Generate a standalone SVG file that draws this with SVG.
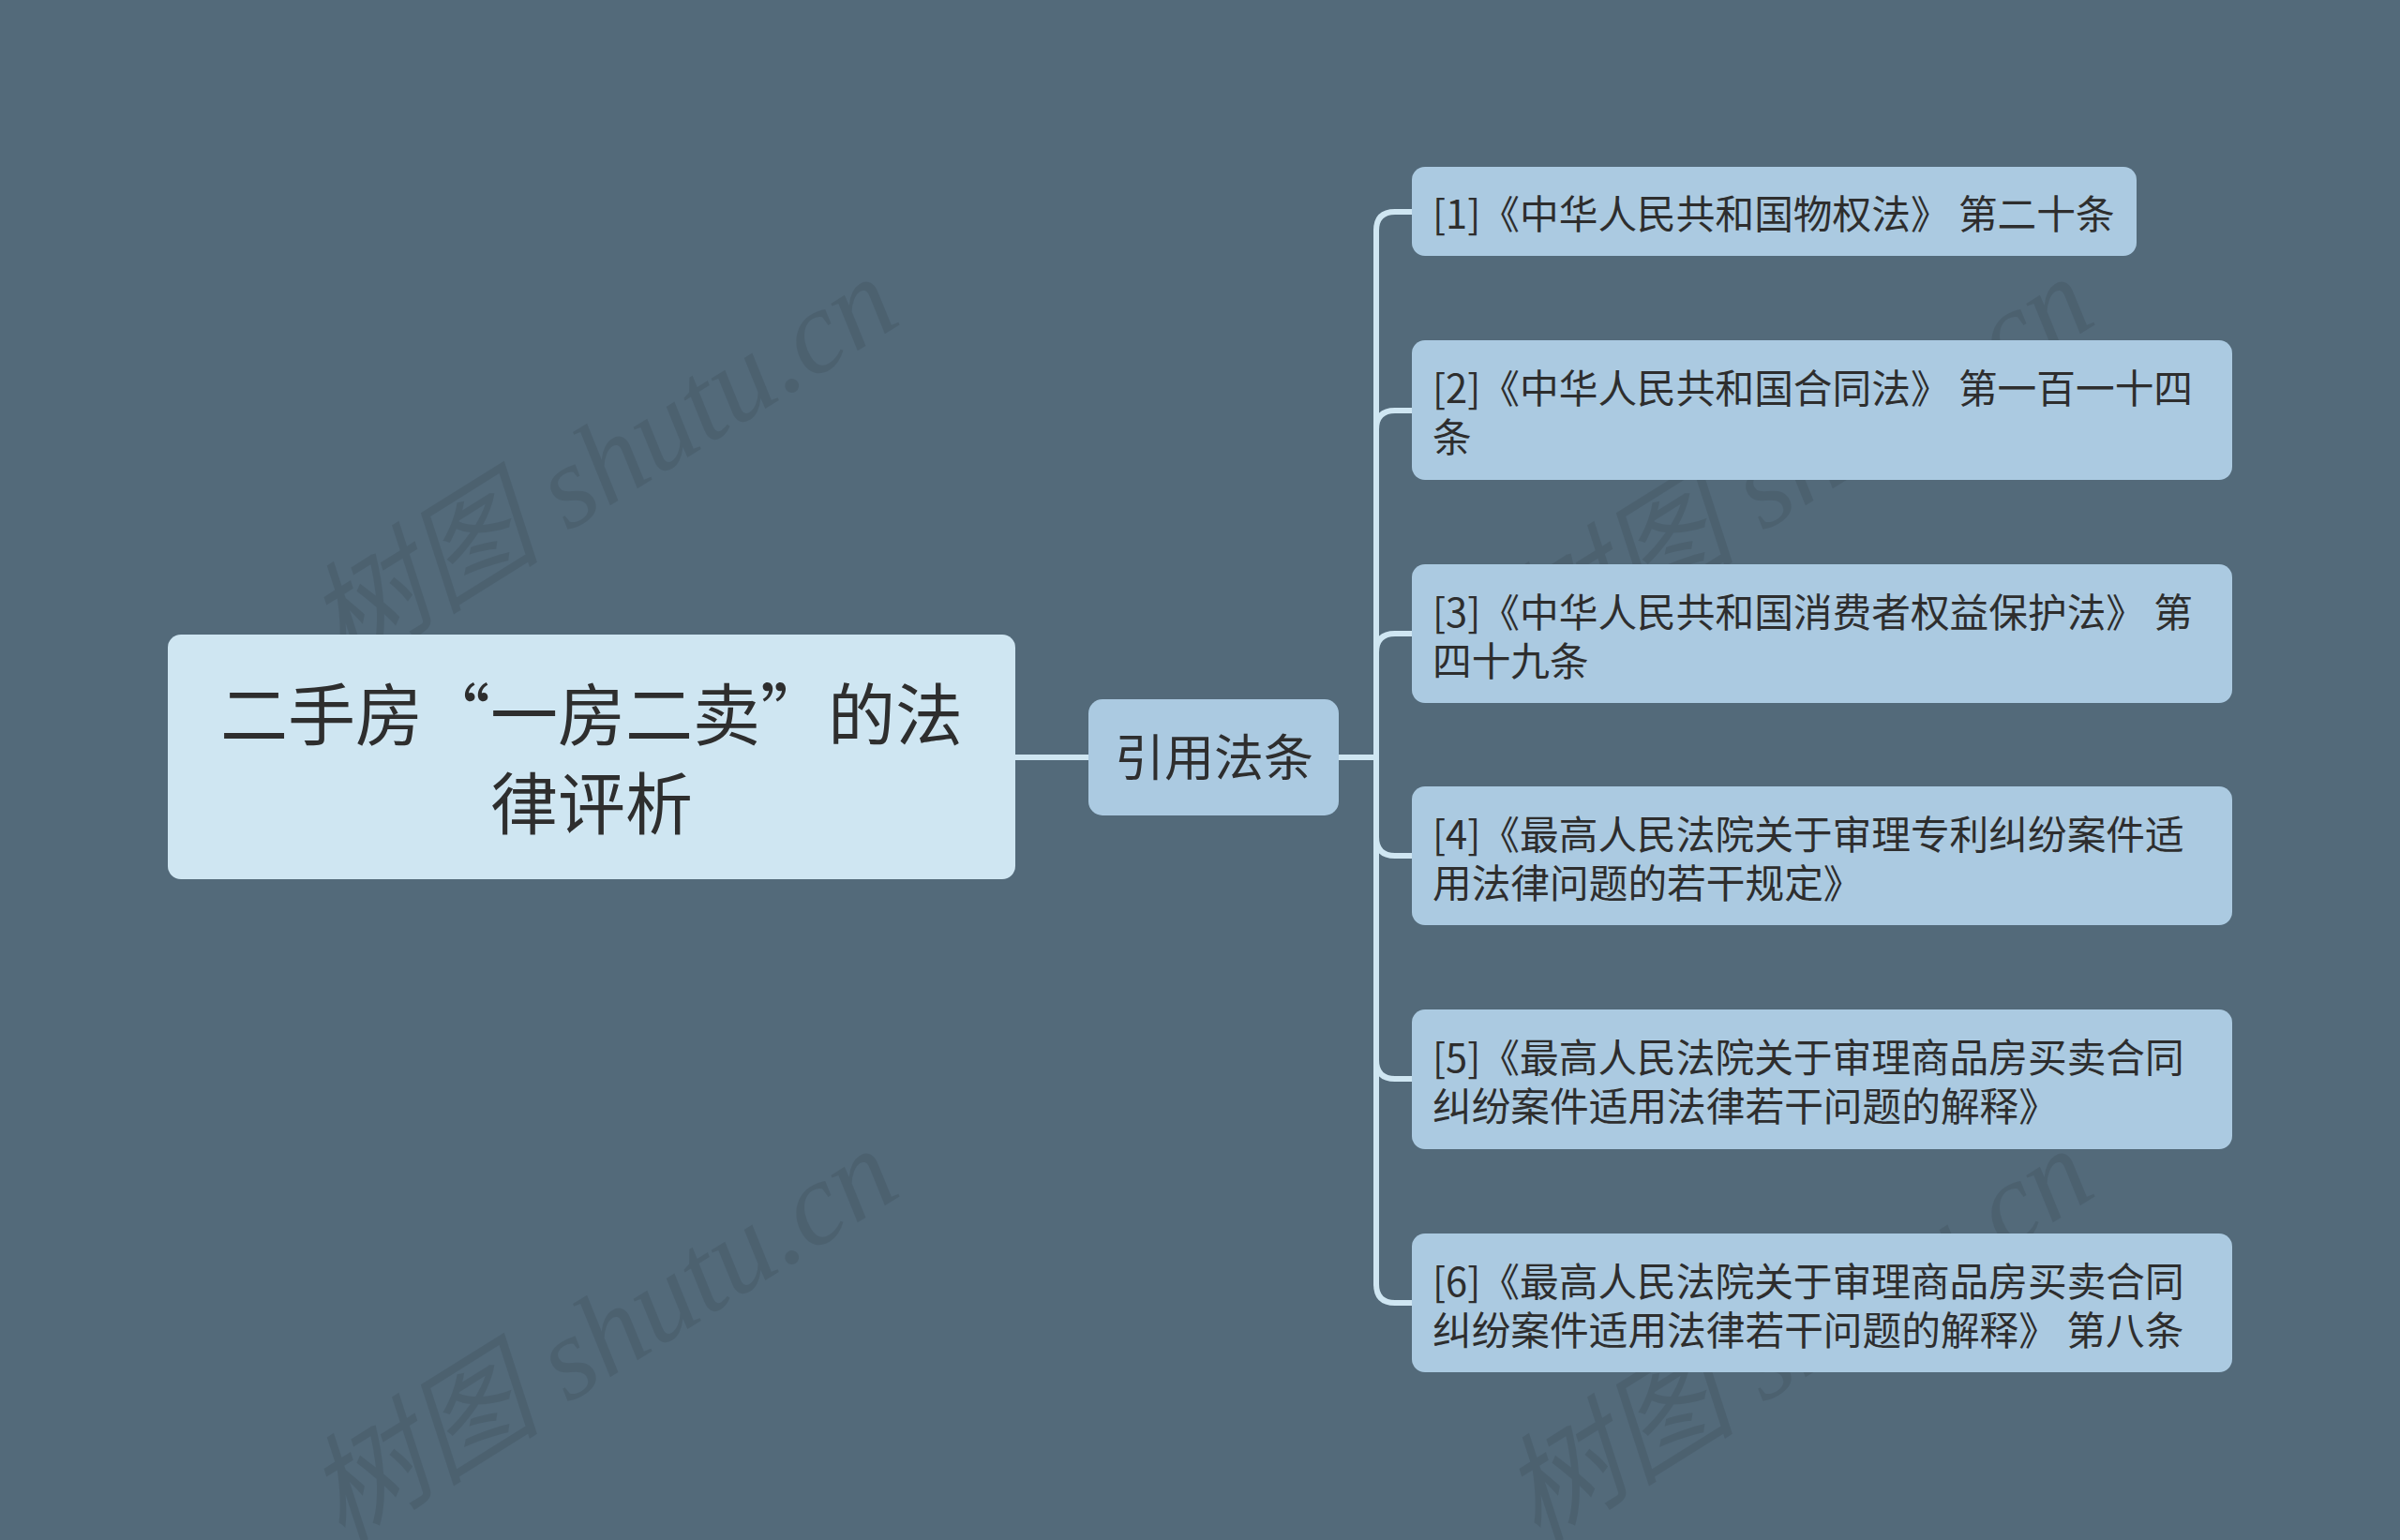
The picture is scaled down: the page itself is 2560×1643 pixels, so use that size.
<svg xmlns="http://www.w3.org/2000/svg" width="2560" height="1643" viewBox="0 0 2560 1643">
<style>
.bg{fill:#536a7a}
.root{fill:#cfe6f2}
.mid{fill:#abcae1}
.leaf{fill:#abcae1}
.t{font-family:"Noto Sans CJK SC","Noto Sans",sans-serif;fill:#2e2e2e}
.rt{font-size:72px;text-anchor:middle}
.mt{font-size:53px;text-anchor:middle}
.lt{font-size:41.7px}
.wm{font-family:"Liberation Serif","Noto Sans CJK SC",serif;font-style:italic;font-size:126px;fill:#000;opacity:0.08}
.c{fill:none;stroke:#cfe6f2;stroke-width:6;stroke-linecap:round}
</style>
<rect class="bg" x="0" y="0" width="2560" height="1643"/>
<g id="watermarks">
<text class="wm" transform="translate(365,718) rotate(-32)">树图 shutu.cn</text>
<text class="wm" transform="translate(1640,718) rotate(-32)">树图 shutu.cn</text>
<text class="wm" transform="translate(365,1648) rotate(-32)">树图 shutu.cn</text>
<text class="wm" transform="translate(1640,1648) rotate(-32)">树图 shutu.cn</text>
</g>
<g id="connectors">
<path class="c" d="M1083,808 H1161"/>
<path class="c" d="M1428,808 H1468"/>
<path class="c" d="M1468,246 V1370"/>
<path class="c" d="M1468,246 Q1468,226 1488,226 H1506"/>
<path class="c" d="M1468,458 Q1468,438 1488,438 H1506"/>
<path class="c" d="M1468,696 Q1468,676 1488,676 H1506"/>
<path class="c" d="M1468,893 Q1468,913 1488,913 H1506"/>
<path class="c" d="M1468,1131 Q1468,1151 1488,1151 H1506"/>
<path class="c" d="M1468,1370 Q1468,1390 1488,1390 H1506"/>
</g>
<g id="root">
<rect class="root" x="179" y="677" width="904" height="261" rx="14"/>
<text class="t rt" x="631" y="789">二手房“一房二卖”的法</text>
<text class="t rt" x="631" y="884">律评析</text>
</g>
<g id="middle">
<rect class="mid" x="1161" y="746" width="267" height="124" rx="15"/>
<text class="t mt" x="1295" y="828">引用法条</text>
</g>
<g id="leaf1">
<rect class="leaf" x="1506" y="178" width="773" height="95" rx="14"/>
<text class="t lt" x="1528" y="244">[1]《中华人民共和国物权法》 第二十条</text>
</g>
<g id="leaf2">
<rect class="leaf" x="1506" y="363" width="875" height="149" rx="14"/>
<text class="t lt" x="1528" y="430">[2]《中华人民共和国合同法》 第一百一十四</text>
<text class="t lt" x="1528" y="482">条</text>
</g>
<g id="leaf3">
<rect class="leaf" x="1506" y="602" width="875" height="148" rx="14"/>
<text class="t lt" x="1528" y="669">[3]《中华人民共和国消费者权益保护法》 第</text>
<text class="t lt" x="1528" y="721">四十九条</text>
</g>
<g id="leaf4">
<rect class="leaf" x="1506" y="839" width="875" height="148" rx="14"/>
<text class="t lt" x="1528" y="906">[4]《最高人民法院关于审理专利纠纷案件适</text>
<text class="t lt" x="1528" y="958">用法律问题的若干规定》</text>
</g>
<g id="leaf5">
<rect class="leaf" x="1506" y="1077" width="875" height="149" rx="14"/>
<text class="t lt" x="1528" y="1144">[5]《最高人民法院关于审理商品房买卖合同</text>
<text class="t lt" x="1528" y="1196">纠纷案件适用法律若干问题的解释》</text>
</g>
<g id="leaf6">
<rect class="leaf" x="1506" y="1316" width="875" height="148" rx="14"/>
<text class="t lt" x="1528" y="1383">[6]《最高人民法院关于审理商品房买卖合同</text>
<text class="t lt" x="1528" y="1435">纠纷案件适用法律若干问题的解释》 第八条</text>
</g>
</svg>
